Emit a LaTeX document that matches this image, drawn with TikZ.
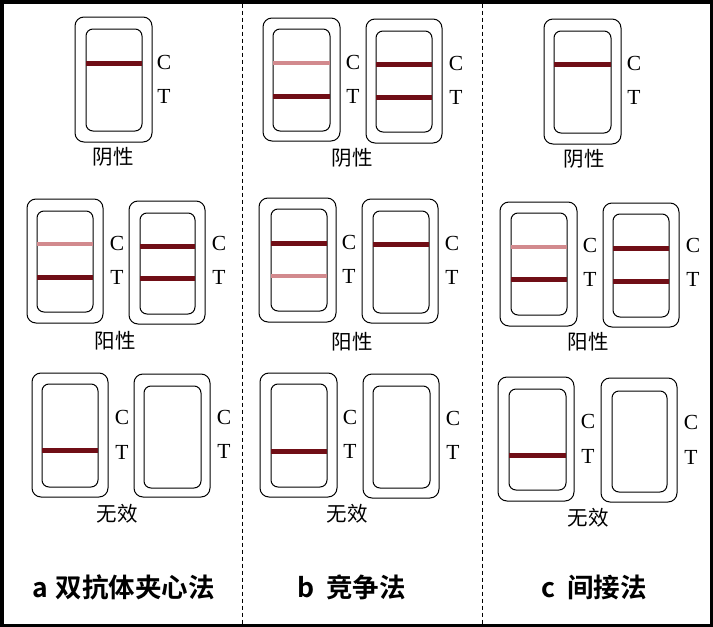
\documentclass[tikz,border=0pt]{standalone}
\usepackage{fontspec}
\setmainfont{Liberation Serif}
\newfontfamily\cjk{Noto Sans CJK SC}
\newfontfamily\cjkbold{Noto Sans CJK SC Bold}
\definecolor{darkband}{RGB}{112,14,22}
\definecolor{pinkband}{RGB}{210,138,142}
\tikzset{
  outerbox/.style={draw=black, line width=1pt, rounded corners=9pt},
  innerbox/.style={draw=black, line width=1pt, rounded corners=7pt},
  darkline/.style={line width=5pt, draw=darkband},
  pinkline/.style={line width=4.5pt, draw=pinkband},
  lbl/.style={font=\fontsize{21.5}{21.5}\selectfont, inner sep=0pt},
  cjklbl/.style={font=\cjk\fontsize{20.5}{20.5}\selectfont, inner sep=0pt},
  ttl/.style={font=\cjkbold\fontsize{26.5}{26.5}\selectfont, inner sep=0pt, anchor=base west},
  divider/.style={draw=black, line width=0.9pt, dash pattern=on 4pt off 3pt}
}
\newcommand\teststrip[8]{%
  \draw[outerbox] (#1,#2) rectangle (#3,#4);
  \draw[innerbox] (#5,#6) rectangle (#7,#8);}
\newcommand\stripband[4]{\draw[#1] (#2,#4) -- (#3,#4);}
\begin{document}
\begin{tikzpicture}[x=1pt,y=-1pt]
\useasboundingbox (0,0) rectangle (713,627);
\fill[white] (0,0) rectangle (713,627);
\draw[line width=3.5pt] (1.75,1.75) rectangle (711.25,625.25);
\draw[divider] (242.5,3.5) -- (242.5,623.5);
\draw[divider] (482.5,3.5) -- (482.5,623.5);

% ---------- panel a ----------
\teststrip{75}{17}{152}{142}{86}{29}{142}{131}
\stripband{darkline}{86}{142}{63}
\node[lbl] (aNegC) at (164,62) {C};
\node[lbl] (aNegT) at (164,96) {T};
\node[cjklbl] (aNeg) at (113,157) {阴性};

\teststrip{27}{199}{103}{323}{37}{211}{93}{312}
\stripband{pinkline}{37}{93}{244}
\stripband{darkline}{37}{93}{277}
\node[lbl] (aPosLC) at (117,243) {C};
\node[lbl] (aPosLT) at (117,277) {T};
\teststrip{129}{201}{205}{324}{140}{213}{195}{314}
\stripband{darkline}{140}{195}{246}
\stripband{darkline}{140}{195}{278}
\node[lbl] (aPosRC) at (219,243) {C};
\node[lbl] (aPosRT) at (219,277) {T};
\node[cjklbl] (aPos) at (115,341) {阳性};

\teststrip{32}{373}{108}{497}{42}{384}{98}{487}
\stripband{darkline}{42}{98}{450}
\node[lbl] (aInvLC) at (122,417) {C};
\node[lbl] (aInvLT) at (122,452) {T};
\teststrip{134}{374}{210}{497}{144}{386}{201}{488}
\node[lbl] (aInvRC) at (224,417) {C};
\node[lbl] (aInvRT) at (224,451) {T};
\node[cjklbl] (aInv) at (117,514) {无效};

\node[ttl] (aTitle) at (32,597) {a\hspace{0.3em}双抗体夹心法};

% ---------- panel b ----------
\teststrip{263}{18}{340}{141}{273}{29}{330}{131}
\stripband{pinkline}{273}{330}{63}
\stripband{darkline}{273}{330}{96}
\node[lbl] (bNegLC) at (353,62) {C};
\node[lbl] (bNegLT) at (353,96) {T};
\teststrip{366}{19}{442}{143}{376}{31}{432}{132}
\stripband{darkline}{376}{432}{64}
\stripband{darkline}{376}{432}{97}
\node[lbl] (bNegRC) at (456,63) {C};
\node[lbl] (bNegRT) at (456,97) {T};
\node[cjklbl] (bNeg) at (352,158) {阴性};

\teststrip{259}{198}{336}{322}{271}{209}{327}{311}
\stripband{darkline}{271}{327}{243}
\stripband{pinkline}{271}{327}{276}
\node[lbl] (bPosLC) at (349,242) {C};
\node[lbl] (bPosLT) at (349,276) {T};
\teststrip{362}{199}{438}{323}{373}{211}{429}{313}
\stripband{darkline}{373}{429}{244}
\node[lbl] (bPosRC) at (452,243) {C};
\node[lbl] (bPosRT) at (452,277) {T};
\node[cjklbl] (bPos) at (352,342) {阳性};

\teststrip{260}{373}{337}{497}{271}{384}{327}{487}
\stripband{darkline}{271}{327}{451}
\node[lbl] (bInvLC) at (350,417) {C};
\node[lbl] (bInvLT) at (350,451) {T};
\teststrip{363}{374}{439}{498}{373}{386}{430}{488}
\node[lbl] (bInvRC) at (453,418) {C};
\node[lbl] (bInvRT) at (453,452) {T};
\node[cjklbl] (bInv) at (347,514) {无效};

\node[ttl] (bTitle) at (297,597) {b\hspace{0.45em}竞争法};

% ---------- panel c ----------
\teststrip{544}{19}{621}{144}{554}{31}{611}{133}
\stripband{darkline}{554}{611}{64}
\node[lbl] (cNegC) at (634,63) {C};
\node[lbl] (cNegT) at (634,97) {T};
\node[cjklbl] (cNeg) at (584,159) {阴性};

\teststrip{500}{202}{577}{326}{511}{213}{567}{315}
\stripband{pinkline}{511}{567}{247}
\stripband{darkline}{511}{567}{279}
\node[lbl] (cPosLC) at (590,245) {C};
\node[lbl] (cPosLT) at (590,279) {T};
\teststrip{603}{203}{679}{327}{613}{214}{669}{317}
\stripband{darkline}{613}{669}{248}
\stripband{darkline}{613}{669}{281}
\node[lbl] (cPosRC) at (693,245) {C};
\node[lbl] (cPosRT) at (693,279) {T};
\node[cjklbl] (cPos) at (588,342) {阳性};

\teststrip{498}{377}{574}{501}{509}{389}{566}{490}
\stripband{darkline}{509}{566}{455}
\node[lbl] (cInvLC) at (588,421) {C};
\node[lbl] (cInvLT) at (588,456) {T};
\teststrip{601}{378}{677}{502}{612}{391}{667}{492}
\node[lbl] (cInvRC) at (691,422) {C};
\node[lbl] (cInvRT) at (691,457) {T};
\node[cjklbl] (cInv) at (588,518) {无效};

\node[ttl] (cTitle) at (541,597) {c\hspace{0.45em}间接法};
\end{tikzpicture}
\end{document}
